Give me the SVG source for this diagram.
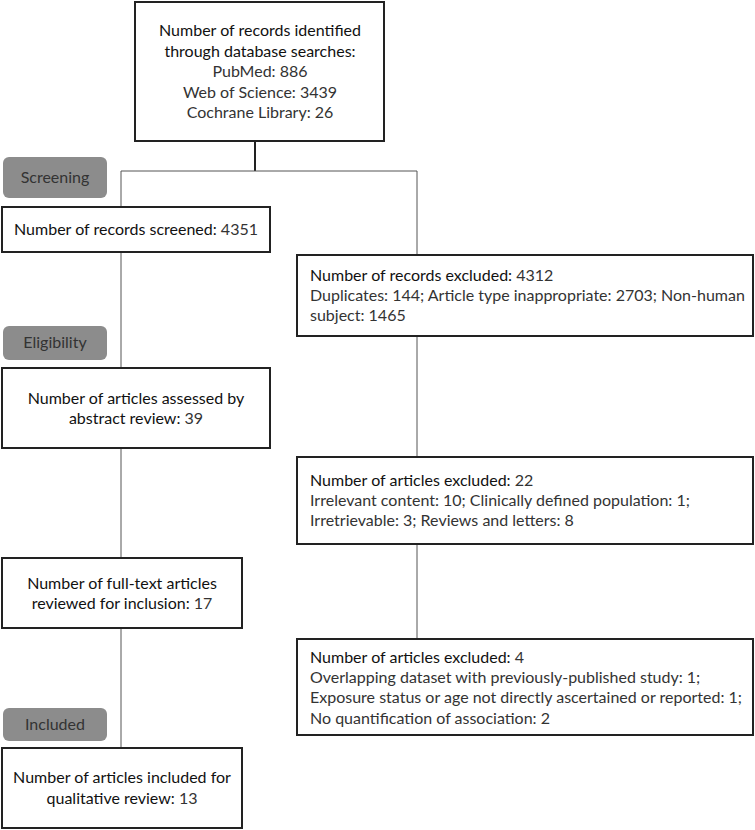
<svg xmlns="http://www.w3.org/2000/svg" width="755" height="830" viewBox="0 0 755 830">
<style>
.box{fill:#fff;stroke:#222;stroke-width:2}
.tag{fill:#8c8c8c}
.tagt{font-family:Lato,"Liberation Sans",sans-serif;font-size:16px;fill:#333;text-anchor:middle}
.t{font-family:Lato,"Liberation Sans",sans-serif;font-size:16px;fill:#333}
.h{fill:#111}
.c{text-anchor:middle}
.ln{stroke:#555;stroke-width:1;fill:none}
</style>
<rect width="755" height="830" fill="#fff"/>
<g id="connectors">
<line x1="255" y1="141" x2="255" y2="171" stroke="#222" stroke-width="2"/>
<polyline class="ln" points="121,207 121,171 417,171 417,255"/>
<line class="ln" x1="121" y1="252" x2="121" y2="368"/>
<line class="ln" x1="121" y1="448" x2="121" y2="558"/>
<line class="ln" x1="121" y1="628" x2="121" y2="748"/>
<line class="ln" x1="417" y1="336" x2="417" y2="457"/>
<line class="ln" x1="417" y1="544" x2="417" y2="639"/>
</g>
<g id="stage-screening"><rect class="tag" x="3" y="157" width="104" height="41" rx="6"/><text class="tagt" x="55" y="183">Screening</text></g>
<g id="stage-eligibility"><rect class="tag" x="3" y="326" width="104" height="34" rx="6"/><text class="tagt" x="55" y="348">Eligibility</text></g>
<g id="stage-included"><rect class="tag" x="3" y="708" width="104" height="33" rx="6"/><text class="tagt" x="55" y="730">Included</text></g>
<g id="identified">
<rect class="box" x="135" y="2" width="249" height="139"/>
<text class="t c h" x="260" y="36">Number of records identified</text>
<text class="t c h" x="260" y="57">through database searches:</text>
<text class="t c" x="260" y="77">PubMed: 886</text>
<text class="t c" x="260" y="98">Web of Science: 3439</text>
<text class="t c" x="260" y="118">Cochrane Library: 26</text>
</g>
<g id="screened">
<rect class="box" x="2" y="207" width="268" height="45"/>
<text class="t c" x="136" y="235"><tspan class="h">Number of records screened:</tspan> 4351</text>
</g>
<g id="abstract">
<rect class="box" x="2" y="368" width="268" height="80"/>
<text class="t c h" x="136" y="404">Number of articles assessed by</text>
<text class="t c" x="136" y="424"><tspan class="h">abstract review:</tspan> 39</text>
</g>
<g id="fulltext">
<rect class="box" x="2" y="558" width="240" height="70"/>
<text class="t c h" x="122" y="589">Number of full-text articles</text>
<text class="t c" x="122" y="609"><tspan class="h">reviewed for inclusion:</tspan> 17</text>
</g>
<g id="included">
<rect class="box" x="2" y="748" width="240" height="80"/>
<text class="t c h" x="122" y="783">Number of articles included for</text>
<text class="t c" x="122" y="804"><tspan class="h">qualitative review:</tspan> 13</text>
</g>
<g id="excluded-records">
<rect class="box" x="297" y="255" width="456" height="81"/>
<text class="t" x="310" y="281"><tspan class="h">Number of records excluded:</tspan> 4312</text>
<text class="t" x="310" y="301">Duplicates: 144; Article type inappropriate: 2703; Non-human</text>
<text class="t" x="310" y="321">subject: 1465</text>
</g>
<g id="excluded-abstract">
<rect class="box" x="297" y="457" width="456" height="87"/>
<text class="t" x="310" y="486"><tspan class="h">Number of articles excluded:</tspan> 22</text>
<text class="t" x="310" y="506">Irrelevant content: 10; Clinically defined population: 1;</text>
<text class="t" x="310" y="526">Irretrievable: 3; Reviews and letters: 8</text>
</g>
<g id="excluded-fulltext">
<rect class="box" x="297" y="639" width="456" height="96"/>
<text class="t" x="310" y="663"><tspan class="h">Number of articles excluded:</tspan> 4</text>
<text class="t" x="310" y="683">Overlapping dataset with previously-published study: 1;</text>
<text class="t" x="310" y="703">Exposure status or age not directly ascertained or reported: 1;</text>
<text class="t" x="310" y="724">No quantification of association: 2</text>
</g>
</svg>
